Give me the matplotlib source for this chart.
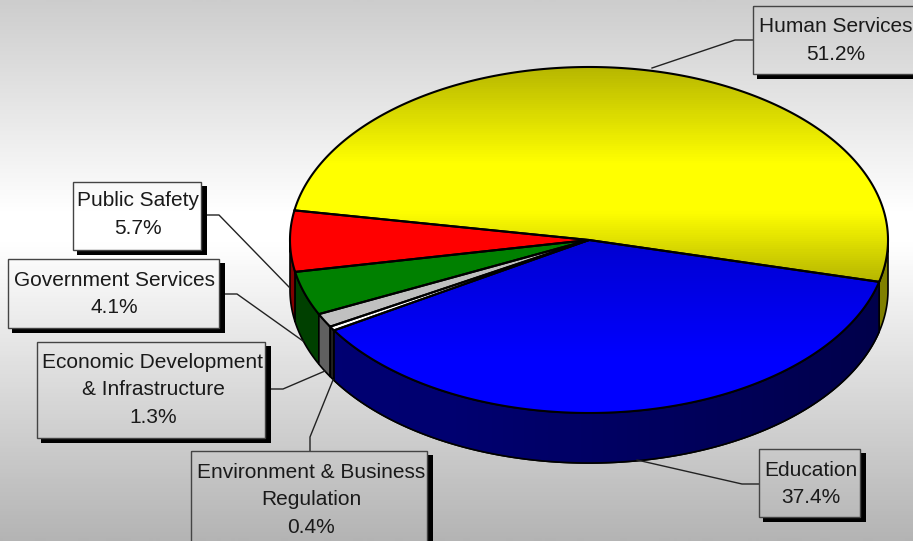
import numpy as np
import matplotlib
matplotlib.use("Agg")
import matplotlib.pyplot as plt
from matplotlib.patches import Polygon, Rectangle
from matplotlib.colors import LinearSegmentedColormap

categories = ["Human Services", "Public Safety", "Government Services",
              "Economic Development\n& Infrastructure", "Environment & Business\nRegulation", "Education"]
shares = [51.2, 5.7, 4.1, 1.3, 0.4, 37.4]
top_colors = ["#ffff00", "#ff0000", "#008000", "#c0c0c0", "#ffffff", "#0000ff"]
side_colors = ["#808000", "#800000", "#004000", "#606060", "#202020", "#000070"]

# pie geometry, in image pixels
CX, CY, RX, RY, DEPTH = 589, 240, 299, 173, 50
START = -14.0

# label box (x0, y0, x1, y1), text centre x, first line y
boxes = [(753, 6, 925, 74, 836, 27),
         (73, 182, 201, 250, 138, 201),
         (8, 259, 219, 328, 114, 280),
         (37, 342, 265, 438, 153, 362),
         (191, 451, 427, 560, 311, 472),
         (759, 449, 860, 517, 811, 470)]
leaders = [[(652, 68), (735, 40), (753, 40)],
           [(207, 215), (219, 215), (289, 287)],
           [(225, 294), (237, 294), (303, 341)],
           [(271, 389), (283, 389), (325, 371)],
           [(310, 451), (310, 437), (333, 380)],
           [(759, 484), (742, 484), (637, 460)]]

plt.rcParams["font.family"] = ["Liberation Sans", "DejaVu Sans"]
fig = plt.figure(figsize=(9.13, 5.41), dpi=100)
ax = fig.add_axes([0, 0, 1, 1])
ax.set_xlim(0, 913)
ax.set_ylim(541, 0)
ax.axis("off")


def arc(a0, a1, dy=0):
    t = np.radians(np.linspace(a0, a1, max(int(abs(a1 - a0) * 4), 2)))
    return np.c_[CX + RX * np.cos(t), CY - RY * np.sin(t) + dy]


def gradient(stops, clip, vertical=True, z=1):
    # stops are (position 0..1, colour), spread over the whole image
    cmap = LinearSegmentedColormap.from_list("g", stops)
    g = np.linspace(0, 1, 541)[:, None] if vertical else np.linspace(0, 1, 913)[None, :]
    im = ax.imshow(g, cmap=cmap, vmin=0, vmax=1, extent=(0, 913, 541, 0), aspect="auto",
                   zorder=z, interpolation="bilinear")
    if clip is not None:
        im.set_clip_path(clip)
    return im


gradient([(0, "#cdcdcd"), (0.39, "#ffffff"), (0.45, "#ffffff"), (1, "#b4b4b4")], None, z=0)

total = sum(shares)
edges = START + np.cumsum([0] + shares) * 360 / total

# sides first, only the part on the near half of the rim shows
for i in range(len(shares)):
    for lo, hi in ((-180, 0), (180, 360)):
        a0, a1 = max(edges[i], lo), min(edges[i + 1], hi)
        if a1 <= a0:
            continue
        pts = np.r_[arc(a0, a1), arc(a1, a0, DEPTH)]
        p = Polygon(pts, closed=True, fc=side_colors[i], ec="black", lw=1.2, zorder=2)
        ax.add_patch(p)
        if categories[i] == "Education":
            p2 = Polygon(pts, closed=True, fc="none", ec="none", zorder=2)
            ax.add_patch(p2)
            gradient([(0, "#000078"), (0.5, "#000070"), (1, "#000048")], p2, vertical=False, z=2.1)
            ax.add_patch(Polygon(pts, closed=True, fc="none", ec="black", lw=1.2, zorder=2.2))

# top face
for i in range(len(shares)):
    pts = np.r_[[(CX, CY)], arc(edges[i], edges[i + 1])]
    ax.add_patch(Polygon(pts, closed=True, fc=top_colors[i], ec="none", zorder=3))
    clip = Polygon(pts, closed=True, fc="none", ec="none", zorder=3)
    ax.add_patch(clip)
    if categories[i] == "Human Services":
        gradient([(0, "#a8a800"), (0.125, "#b8b800"), (0.30, "#ffff00"), (0.39, "#ffff00"), (0.53, "#b0b000"), (1, "#b0b000")],
                 clip, z=3.1)
    elif categories[i] == "Education":
        gradient([(0, "#0000c8"), (0.44, "#0000d0"), (0.66, "#0000ff"), (1, "#0000ff")], clip, z=3.1)
    ax.add_patch(Polygon(pts, closed=True, fc="none", ec="black", lw=1.5, zorder=3.2))

# leader lines and label boxes
for pts in leaders:
    xs, ys = zip(*pts)
    ax.plot(xs, ys, color="#222222", lw=1, zorder=4)

for name, share, (x0, y0, x1, y1, tx, ty) in zip(categories, shares, boxes):
    shadow = [(x1, y0 + 4), (x1 + 6, y0 + 4), (x1 + 6, y1 + 5), (x0 + 4, y1 + 5), (x0 + 4, y1), (x1, y1)]
    ax.add_patch(Polygon(shadow, closed=True, fc="black", ec="none", zorder=5))
    ax.add_patch(Rectangle((x0, y0), x1 - x0, y1 - y0, fc="none", ec="#444444", lw=1, zorder=5))
    for j, line in enumerate(name.split("\n") + [f"{share:.1f}%"]):
        ax.text(tx, ty + j * 27.8, line, ha="center", va="center", fontsize=15,
                color="#1a1a1a", zorder=6)

fig.savefig("out.png", dpi=100)
